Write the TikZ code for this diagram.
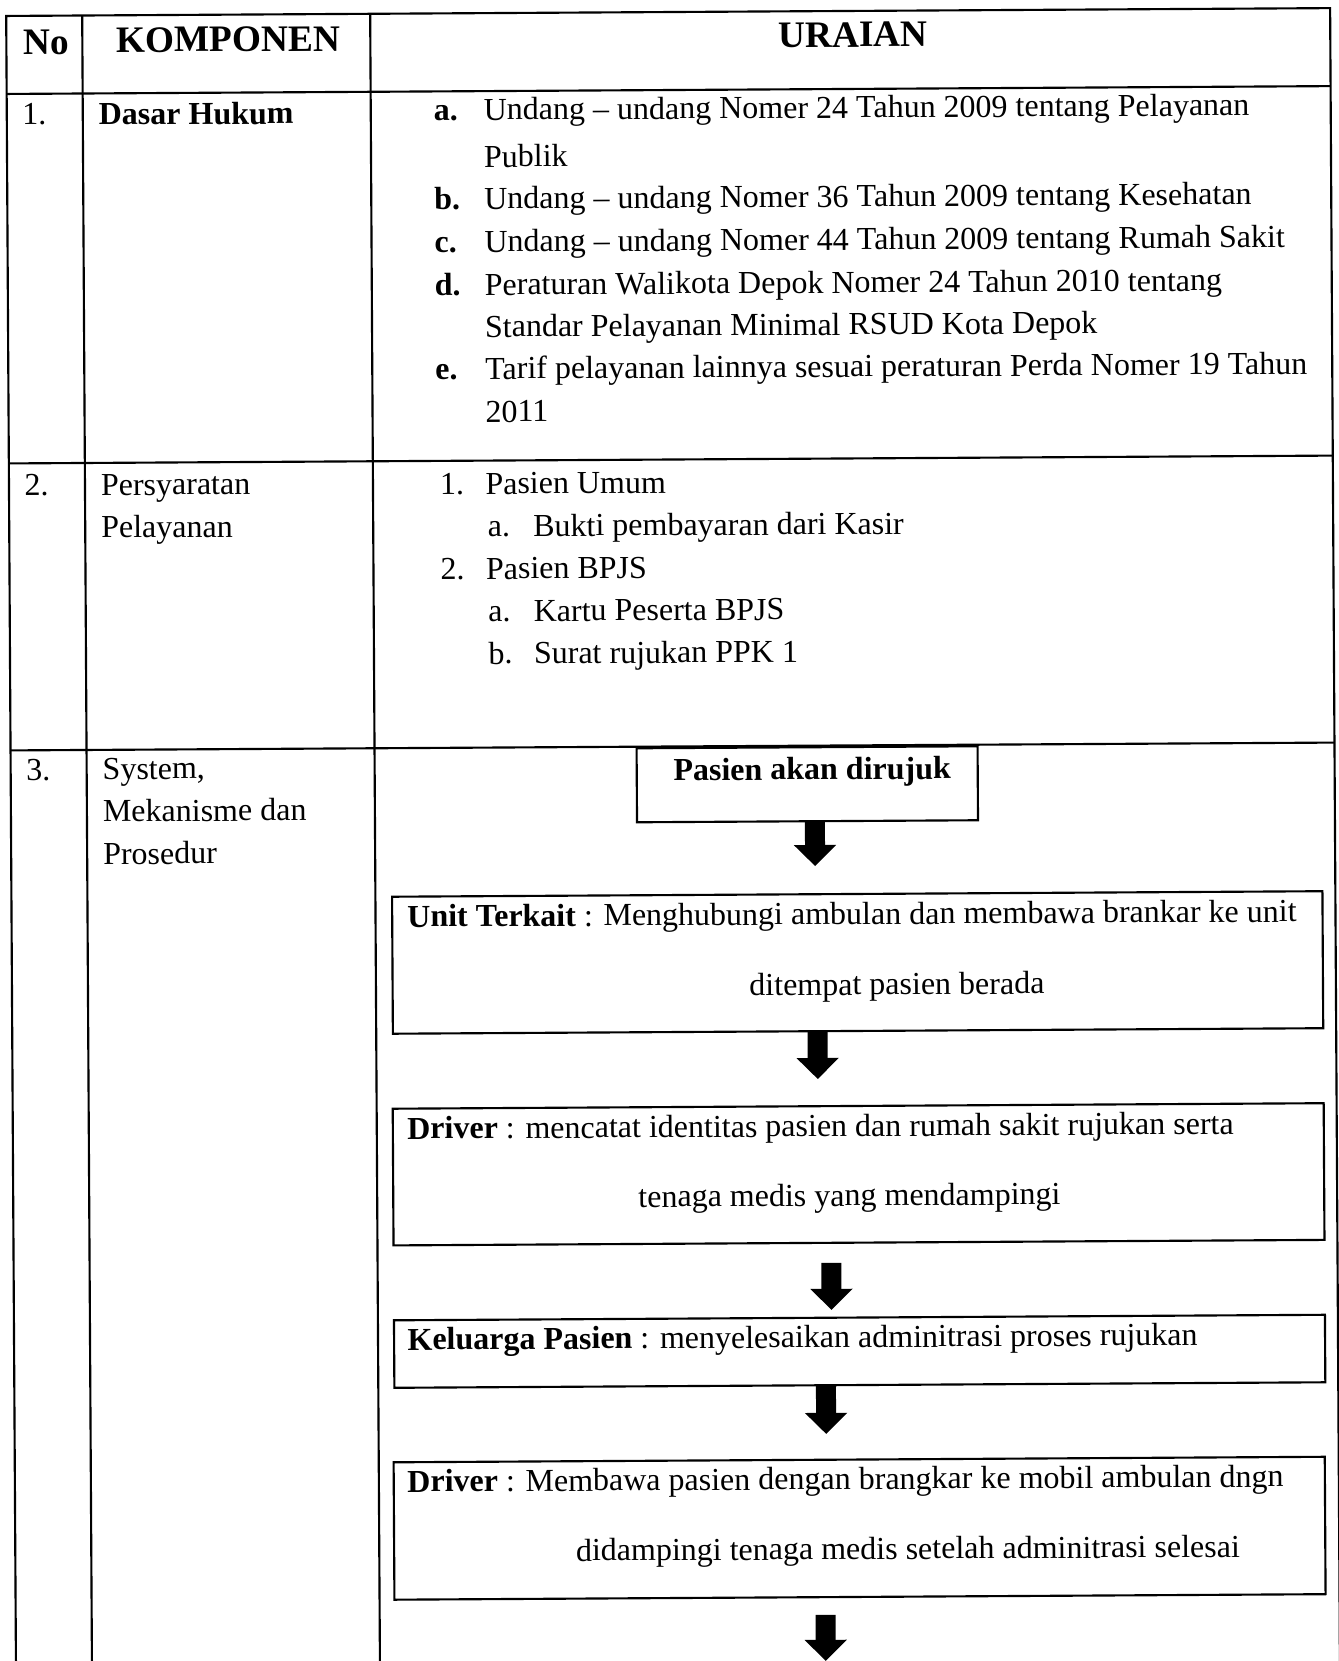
\documentclass[tikz,border=0pt]{standalone}
\usepackage{fontspec}
\setmainfont{Liberation Serif}
\usetikzlibrary{arrows.meta}
\begin{document}
\begin{tikzpicture}[x=0.375pt,y=-0.375pt,
  every node/.append style={transform shape},
  rule/.style={line width=0.8pt},
  txt/.style={anchor=base west, inner sep=0pt, font=\fontsize{12}{14}\selectfont},
  ctxt/.style={anchor=base, inner sep=0pt, font=\fontsize{12}{14}\selectfont},
  btxt/.style={anchor=base, inner sep=0pt, font=\fontsize{12}{14}\selectfont\bfseries},
  head/.style={anchor=base, inner sep=0pt, font=\fontsize{14}{16}\selectfont\bfseries},
  flowbox/.style={draw, line width=0.8pt, inner sep=0pt, anchor=north west},
  blockarrow/.style={line width=7.5pt, -{Triangle[width=15.4pt,length=7.9pt]}}]
\useasboundingbox (0,0) rectangle (1339,1661);
\begin{scope}[rotate around={0.34:(670,830)}]
% table grid
\draw[rule] (11,1700) -- (11,12) -- (1335,12) -- (1335,1700);
\draw[rule] (11,90) -- (1335,90);
\draw[rule] (11,459.5) -- (1335,459.5);
\draw[rule] (11,746.5) -- (1335,746.5);
\draw[rule] (87,12) -- (87,1700);
\draw[rule] (375,12) -- (375,1700);

% header
\node[head] (hNo) at (50.5,51) {No};
\node[head] (hKomp) at (232.7,49) {KOMPONEN};
\node[head] (hUrai) at (857.7,48) {URAIAN};

% row 1
\node[txt] (n1) at (26,121) {1.};
\node[txt, font=\fontsize{12}{14}\selectfont\bfseries] (k1) at (102.5,121.5) {Dasar Hukum};
\node[txt, font=\fontsize{12}{14}\selectfont\bfseries] (l1a) at (437.5,119) {a.};
\node[txt] (t1a) at (487.5,119) {Undang – undang Nomer 24 Tahun 2009 tentang Pelayanan};
\node[txt] (t1a2) at (487.5,166) {Publik};
\node[txt, font=\fontsize{12}{14}\selectfont\bfseries] (l1b) at (437.5,208) {b.};
\node[txt] (t1b) at (487.5,208) {Undang – undang Nomer 36 Tahun 2009 tentang Kesehatan};
\node[txt, font=\fontsize{12}{14}\selectfont\bfseries] (l1c) at (437.5,251) {c.};
\node[txt] (t1c) at (487.5,251) {Undang – undang Nomer 44 Tahun 2009 tentang Rumah Sakit};
\node[txt, font=\fontsize{12}{14}\selectfont\bfseries] (l1d) at (437.5,294) {d.};
\node[txt] (t1d) at (487.5,294) {Peraturan Walikota Depok Nomer 24 Tahun 2010 tentang};
\node[txt] (t1d2) at (487.5,336) {Standar Pelayanan Minimal RSUD Kota Depok};
\node[txt, font=\fontsize{12}{14}\selectfont\bfseries] (l1e) at (437.5,378) {e.};
\node[txt] (t1e) at (487.5,378) {Tarif pelayanan lainnya sesuai peraturan Perda Nomer 19 Tahun};
\node[txt] (t1e2) at (487.5,421) {2011};

% row 2
\node[txt] (n2) at (26,492) {2.};
\node[txt] (k2) at (102.5,492) {Persyaratan};
\node[txt] (k2b) at (102.5,534.5) {Pelayanan};
\node[txt] (l2a) at (441.5,493) {1.};
\node[txt] (t2a) at (487,493) {Pasien Umum};
\node[txt] (l2aa) at (489,535.5) {a.};
\node[txt] (t2aa) at (534.5,535.5) {Bukti pembayaran dari Kasir};
\node[txt] (l2b) at (441.5,578) {2.};
\node[txt] (t2b) at (487,578) {Pasien BPJS};
\node[txt] (l2ba) at (489,620.5) {a.};
\node[txt] (t2ba) at (534.5,620.5) {Kartu Peserta BPJS};
\node[txt] (l2bb) at (489,663) {b.};
\node[txt] (t2bb) at (534.5,663) {Surat rujukan PPK 1};

% row 3
\node[txt] (n3) at (26,777) {3.};
\node[txt] (k3) at (102.5,776) {System,};
\node[txt] (k3b) at (102.5,818.3) {Mekanisme dan};
\node[txt] (k3c) at (102.5,861) {Prosedur};

% flow boxes
\node[flowbox, minimum width=341*0.375pt, minimum height=74*0.375pt] (b1) at (636,747) {};
\node[flowbox, minimum width=930.4*0.375pt, minimum height=137*0.375pt] (b2) at (390.6,894) {};
\node[flowbox, minimum width=931*0.375pt, minimum height=136.7*0.375pt] (b3) at (390,1106) {};
\node[flowbox, minimum width=931*0.375pt, minimum height=67.5*0.375pt] (b4) at (390,1317.6) {};
\node[flowbox, minimum width=931.2*0.375pt, minimum height=137.4*0.375pt] (b5) at (388.8,1459.6) {};

% flow texts
\node[btxt] (b1t) at (812.5,780.5) {Pasien akan dirujuk};
\node[txt] (b2t1) at (406.3,925.5) {\textbf{Unit Terkait} : Menghubungi ambulan dan membawa brankar ke unit};
\node[ctxt] (b2t2) at (896,996) {ditempat pasien berada};
\node[txt] (b3t1) at (405,1137.5) {\textbf{Driver} : mencatat identitas pasien dan rumah sakit rujukan serta};
\node[ctxt] (b3t2) at (847.3,1207) {tenaga medis yang mendampingi};
\node[txt] (b4t1) at (404,1348.5) {\textbf{Keluarga Pasien} : menyelesaikan adminitrasi proses rujukan};
\node[txt] (b5t1) at (403,1490.5) {\textbf{Driver} : Membawa pasien dengan brangkar ke mobil ambulan dngn};
\node[ctxt] (b5t2) at (903.6,1560.5) {didampingi tenaga medis setelah adminitrasi selesai};

% block arrows between the steps
\coordinate (a1s) at (815,821);   \coordinate (a1e) at (815,867);
\coordinate (a2s) at (816.4,1032); \coordinate (a2e) at (816.4,1080);
\coordinate (a3s) at (828.8,1264); \coordinate (a3e) at (828.8,1311);
\coordinate (a4s) at (822.7,1386); \coordinate (a4e) at (822.7,1435);
\coordinate (a5s) at (821,1616);   \coordinate (a5e) at (821,1662);
\draw[blockarrow] (a1s) -- (a1e);
\draw[blockarrow] (a2s) -- (a2e);
\draw[blockarrow] (a3s) -- (a3e);
\draw[blockarrow] (a4s) -- (a4e);
\draw[blockarrow] (a5s) -- (a5e);
\end{scope}
\end{tikzpicture}
\end{document}
